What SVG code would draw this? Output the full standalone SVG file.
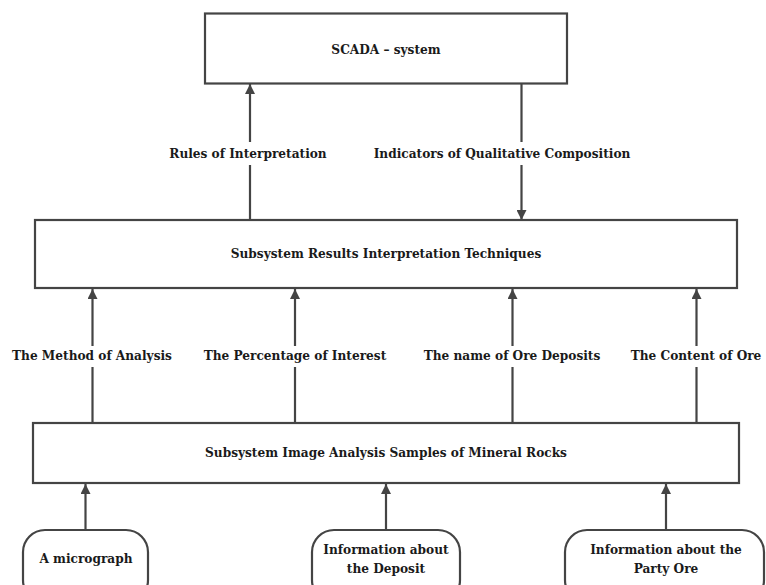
<svg xmlns="http://www.w3.org/2000/svg" width="766" height="585" viewBox="0 0 766 585">
<style>
.box{fill:#fff;stroke:#444;stroke-width:2.2}
.ln{stroke:#444;stroke-width:2.2;fill:none}
.t{font-family:'DejaVu Serif Condensed','DejaVu Serif',serif;font-stretch:condensed;font-weight:700;font-size:13.5px;fill:#1a1a1a;text-anchor:middle}
</style>
<defs>
<marker id="ah" viewBox="0 0 10 10" refX="10" refY="5" markerWidth="10" markerHeight="10" markerUnits="userSpaceOnUse" orient="auto">
<path d="M0,0 L10,5 L0,10 z" fill="#444"/>
</marker>
</defs>
<rect width="766" height="585" fill="#fff"/>
<g id="connectors">
<path class="ln" d="M250,220 V165 M250,142 V84" marker-end="url(#ah)"/>
<path class="ln" d="M521.5,83 V142 M521.5,165 V220" marker-end="url(#ah)"/>
<path class="ln" d="M92.5,423 V367 M92.5,346 V289" marker-end="url(#ah)"/>
<path class="ln" d="M295,423 V367 M295,346 V289" marker-end="url(#ah)"/>
<path class="ln" d="M512.5,423 V367 M512.5,346 V289" marker-end="url(#ah)"/>
<path class="ln" d="M696.5,423 V367 M696.5,346 V289" marker-end="url(#ah)"/>
<path class="ln" d="M85.5,530 V484" marker-end="url(#ah)"/>
<path class="ln" d="M386,530 V484" marker-end="url(#ah)"/>
<path class="ln" d="M666,530 V484" marker-end="url(#ah)"/>
<text class="t" x="248" y="158">Rules of Interpretation</text>
<text class="t" x="502" y="158">Indicators of Qualitative Composition</text>
<text class="t" x="92" y="360">The Method of Analysis</text>
<text class="t" x="295" y="360">The Percentage of Interest</text>
<text class="t" x="512" y="360">The name of Ore Deposits</text>
<text class="t" x="696" y="360">The Content of Ore</text>
</g>
<g id="scada">
<rect class="box" x="205" y="13.5" width="362" height="70"/>
<text class="t" x="386" y="54">SCADA – system</text>
</g>
<g id="interpretation">
<rect class="box" x="35" y="220" width="702" height="68"/>
<text class="t" x="386" y="258">Subsystem Results Interpretation Techniques</text>
</g>
<g id="analysis">
<rect class="box" x="33" y="423" width="706" height="60"/>
<text class="t" x="386" y="457">Subsystem Image Analysis Samples of Mineral Rocks</text>
</g>
<g id="micrograph">
<rect class="box" x="23" y="530" width="125" height="72" rx="22"/>
<text class="t" x="86" y="563">A micrograph</text>
</g>
<g id="deposit">
<rect class="box" x="312" y="530" width="148" height="72" rx="22"/>
<text class="t" x="386" y="554">Information about</text>
<text class="t" x="386" y="573">the Deposit</text>
</g>
<g id="party">
<rect class="box" x="565" y="530" width="199" height="72" rx="22"/>
<text class="t" x="666" y="554">Information about the</text>
<text class="t" x="666" y="573">Party Ore</text>
</g>
</svg>
